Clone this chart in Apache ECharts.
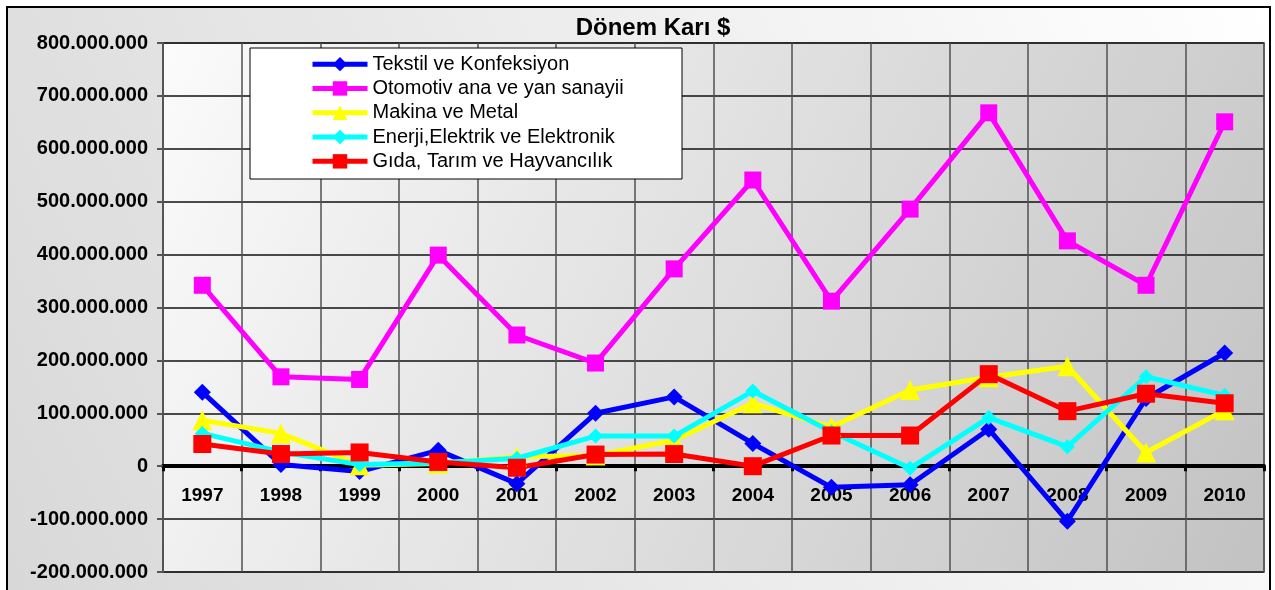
<!DOCTYPE html>
<html>
<head>
<meta charset="utf-8">
<title>Dönem Karı $</title>
<script src="https://cdn.jsdelivr.net/npm/echarts@6/dist/echarts.min.js"></script>
<style>
  html, body { margin: 0; padding: 0; background: #fff; }
  #chart { width: 1275px; height: 590px; }
</style>
</head>
<body>
<div id="chart"></div>
<script>
const years = ['1997', '1998', '1999', '2000', '2001', '2002', '2003', '2004', '2005', '2006', '2007', '2008', '2009', '2010']

// values in $
const tekstil = [140e6, 3e6, -10e6, 30e6, -33e6, 100e6, 131e6, 43e6, -40e6, -35e6, 70e6, -104e6, 128e6, 214e6]
const otomotiv = [342e6, 169e6, 164e6, 399e6, 248e6, 195e6, 373e6, 541e6, 312e6, 486e6, 668e6, 426e6, 342e6, 651e6]
const makina = [87e6, 62e6, 2e6, 5e6, 18e6, 20e6, 49e6, 119e6, 74e6, 144e6, 168e6, 189e6, 26e6, 106e6]
const enerji = [62e6, 27e6, 3e6, 6e6, 15e6, 57e6, 57e6, 142e6, 65e6, -4e6, 92e6, 37e6, 169e6, 134e6]
const gida = [42e6, 23e6, 26e6, 8e6, -3e6, 22e6, 23e6, 0, 58e6, 58e6, 174e6, 104e6, 137e6, 119e6]

const seriesNames = [
  'Tekstil ve Konfeksiyon',
  'Otomotiv ana ve yan sanayii',
  'Makina ve Metal',
  'Enerji,Elektrik ve Elektronik',
  'Gıda, Tarım ve Hayvancılık'
]

const fmt = v => String(v).replace(/\B(?=(\d{3})+(?!\d))/g, '.')

function lineSeries(name, data, color, symbol, size) {
  return {
    name: name,
    type: 'line',
    data: data,
    symbol: symbol,
    symbolSize: size,
    lineStyle: { color: color, width: 5 },
    itemStyle: { color: color },
    emphasis: { disabled: true }
  }
}

const chart = echarts.init(document.getElementById('chart'))

chart.setOption({
  animation: false,
  textStyle: { fontFamily: 'Liberation Sans, Arial, sans-serif' },
  graphic: [{
    type: 'rect',
    z: -10,
    shape: { x: 7, y: 7, width: 1263, height: 600 },
    style: {
      fill: new echarts.graphic.LinearGradient(1, 0, 0, 1, [
        { offset: 0, color: '#ffffff' },
        { offset: 1, color: '#d8d8d8' }
      ]),
      stroke: '#000',
      lineWidth: 2
    }
  }, {
    type: 'rect',
    z: 20,
    shape: { x: 250, y: 48, width: 432, height: 131 },
    style: { fill: '#fff', stroke: '#000', lineWidth: 1 }
  }],
  title: {
    text: 'Dönem Karı $',
    left: 648,
    textAlign: 'center',
    top: 11,
    textStyle: { fontSize: 24, fontWeight: 'bold', color: '#000' }
  },
  legend: {
    z: 21,
    left: 310,
    top: 52,
    padding: 0,
    orient: 'vertical',
    itemWidth: 55,
    itemHeight: 18,
    itemGap: 0,
    lineStyle: { width: 5 },
    textStyle: { fontSize: 20, lineHeight: 24.3, color: '#000' },
    data: seriesNames
  },
  grid: {
    left: 163,
    right: 11,
    top: 43,
    bottom: 18,
    outerBoundsMode: 'none',
    show: true,
    borderColor: '#8a8a8a',
    borderWidth: 2,
    backgroundColor: new echarts.graphic.LinearGradient(0, 0, 1, 1, [
      { offset: 0, color: '#fbfbfb' },
      { offset: 1, color: '#c2c2c2' }
    ])
  },
  xAxis: {
    type: 'category',
    data: years,
    boundaryGap: true,
    axisLine: { onZero: true, lineStyle: { color: '#000', width: 4 } },
    axisTick: { show: true, length: 5, lineStyle: { color: '#000', width: 3 } },
    axisLabel: { margin: -86, fontSize: 19, fontWeight: 'bold', color: '#000' },
    splitLine: { show: true, lineStyle: { color: '#505050', width: 1.5 } }
  },
  yAxis: {
    type: 'value',
    min: -200000000,
    max: 800000000,
    interval: 100000000,
    axisLine: { show: true, lineStyle: { color: '#555', width: 2 } },
    axisTick: { show: true, length: 6, lineStyle: { color: '#555', width: 2 } },
    axisLabel: { margin: 15, fontSize: 20, fontWeight: 'bold', color: '#000', formatter: fmt },
    splitLine: { show: true, lineStyle: { color: '#111', width: 1.5 } }
  },
  series: [
    lineSeries(seriesNames[0], tekstil, '#0000ff', 'diamond', 17),
    lineSeries(seriesNames[1], otomotiv, '#ff00ff', 'rect', 17),
    lineSeries(seriesNames[2], makina, '#ffff00', 'triangle', 20),
    lineSeries(seriesNames[3], enerji, '#00ffff', 'diamond', 15),
    lineSeries(seriesNames[4], gida, '#ff0000', 'rect', 18)
  ]
})
</script>
</body>
</html>
